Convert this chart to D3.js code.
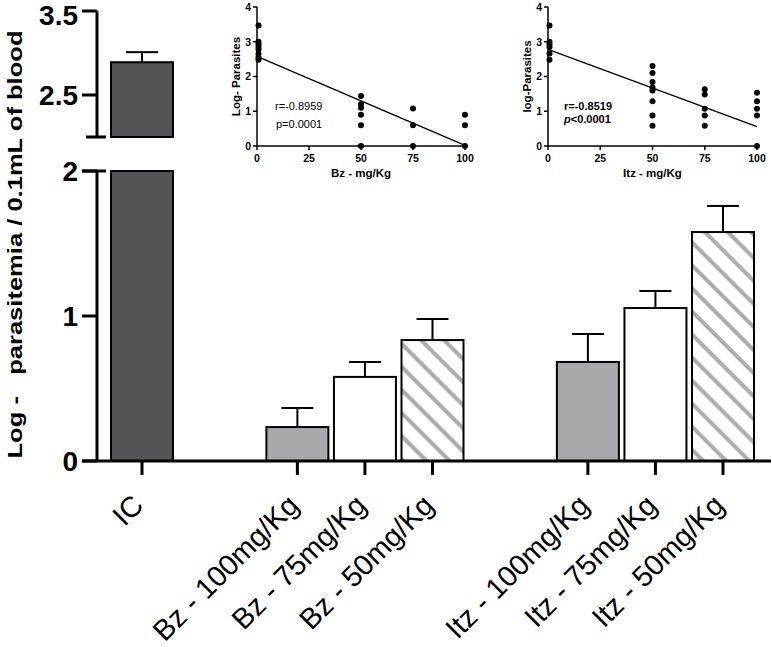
<!DOCTYPE html>
<html><head><meta charset="utf-8">
<script src="https://cdn.jsdelivr.net/npm/d3@7"></script>
<style>body{margin:0;background:#fff}svg{display:block;font-family:"Liberation Sans",Arial,sans-serif}</style>
</head><body><svg id="c" width="772" height="647"></svg>
<script>
// ---- data ----
const categories = ["IC","Bz - 100mg/Kg","Bz - 75mg/Kg","Bz - 50mg/Kg","Itz - 100mg/Kg","Itz - 75mg/Kg","Itz - 50mg/Kg"];
const groups = ["IC","Bz","Bz","Bz","Itz","Itz","Itz"];
const means = [2.89, 0.234, 0.58, 0.834, 0.683, 1.055, 1.579];
const sems = [0.12, 0.132, 0.103, 0.145, 0.193, 0.117, 0.18];
const fillKinds = ["dark","light","white","hatch","light","white","hatch"];
const lowerTicks = [0, 1, 2];
const upperTicks = [2.5, 3.5];
const yTitle = "Log -   parasitemia / 0.1mL of blood";

const doses = [0, 25, 50, 75, 100];
const insetYTicks = [0, 1, 2, 3, 4];
const bzDoses = [0, 50, 75, 100];
const bzPoints = [[3.47,3.0,2.93,2.85,2.78,2.65,2.55,2.48],[1.44,1.2,1.1,0.9,0.6,0],[1.08,0.6,0],[0.9,0.6,0]];
const bzFit = [2.58, 0.02];
const bzStats = ["r=-0.8959", "p=0.0001"];
const itzDoses = [0, 50, 75, 100];
const itzPoints = [[3.47,3.0,2.93,2.85,2.66,2.48],[2.3,2.1,1.84,1.68,1.6,1.29,0.88,0.58],[1.63,1.48,1.07,0.88,0.58],[1.53,1.29,1.07,0.88,0]];
const itzFit = [2.78, 0.56];

// ---- drawing ----
const svg = d3.select("#c");
const defs = svg.append("defs");
const pat = defs.append("pattern").attr("id","hatch").attr("patternUnits","userSpaceOnUse")
  .attr("width",16.3).attr("height",16.3).attr("patternTransform","rotate(45)");
pat.append("rect").attr("width",16.3).attr("height",16.3).attr("fill","#fff");
pat.append("line").attr("x1",0).attr("x2",16.3).attr("y1",8).attr("y2",8).attr("stroke","#aaaaaa").attr("stroke-width",4);

const fillScale = d3.scaleOrdinal().domain(["dark","light","white","hatch"]).range(["#545457","#a9a9ad","#ffffff","url(#hatch)"]);

// slot index with gaps between groups
let gi = 0; const slot = categories.map((c,i)=>{ if(i>0 && groups[i]!==groups[i-1]) gi += 1.3; return i+gi; });
const x = d3.scaleLinear().domain([0, d3.max(slot)]).range([142, 723]);
const yL = d3.scaleLinear().domain([0, 2]).range([461, 171]);
const yU = d3.scaleLinear().domain([2, 3.5]).range([137, 11]);
const bw = 62;

const axX = 97;
// y axis lines
svg.append("line").attr("x1",axX).attr("x2",axX).attr("y1",yU(3.5)).attr("y2",yU(2)).attr("stroke","#000").attr("stroke-width",3);
svg.append("line").attr("x1",axX).attr("x2",axX).attr("y1",yL(2)).attr("y2",yL(0)).attr("stroke","#000").attr("stroke-width",3);
// break caps
svg.append("line").attr("x1",86).attr("x2",106).attr("y1",yU(2)).attr("y2",yU(2)).attr("stroke","#000").attr("stroke-width",3);
svg.append("line").attr("x1",82).attr("x2",106).attr("y1",yL(2)).attr("y2",yL(2)).attr("stroke","#000").attr("stroke-width",3);
// ticks
upperTicks.forEach(t=>{
  svg.append("line").attr("x1",82).attr("x2",axX).attr("y1",yU(t)).attr("y2",yU(t)).attr("stroke","#000").attr("stroke-width",3);
  svg.append("text").attr("x",78).attr("y",Math.max(yU(t), 15)).attr("dy","0.36em").attr("text-anchor","end")
    .attr("font-size",28).attr("font-weight","bold").text(t.toFixed(1));
});
lowerTicks.forEach(t=>{
  svg.append("line").attr("x1",82).attr("x2",axX).attr("y1",yL(t)).attr("y2",yL(t)).attr("stroke","#000").attr("stroke-width",3);
  svg.append("text").attr("x",78).attr("y",yL(t)).attr("dy","0.36em").attr("text-anchor","end")
    .attr("font-size",28).attr("font-weight","bold").text(t);
});
svg.append("text").attr("transform",`translate(22,${(yL(0)+28)/2}) rotate(-90)`).attr("text-anchor","middle")
  .attr("font-size",21).attr("font-weight","bold").attr("textLength",428).attr("lengthAdjust","spacingAndGlyphs")
  .attr("xml:space","preserve").style("white-space","pre").text(yTitle);

// bars
categories.forEach((c,i)=>{
  const cx = x(slot[i]), m = means[i], top = m + sems[i];
  const f = fillScale(fillKinds[i]);
  if (m <= 2) {
    svg.append("rect").attr("x",cx-bw/2).attr("y",yL(m)).attr("width",bw).attr("height",yL(0)-yL(m))
      .attr("fill",f).attr("stroke","#000").attr("stroke-width",2);
    svg.append("line").attr("x1",cx).attr("x2",cx).attr("y1",yL(m)).attr("y2",yL(top)).attr("stroke","#000").attr("stroke-width",2);
    svg.append("line").attr("x1",cx-16).attr("x2",cx+16).attr("y1",yL(top)).attr("y2",yL(top)).attr("stroke","#000").attr("stroke-width",2);
  } else {
    svg.append("rect").attr("x",cx-bw/2).attr("y",yL(2)).attr("width",bw).attr("height",yL(0)-yL(2))
      .attr("fill",f).attr("stroke","#000").attr("stroke-width",2);
    svg.append("rect").attr("x",cx-bw/2).attr("y",yU(m)).attr("width",bw).attr("height",yU(2)-yU(m))
      .attr("fill",f).attr("stroke","#000").attr("stroke-width",2);
    svg.append("line").attr("x1",cx).attr("x2",cx).attr("y1",yU(m)).attr("y2",yU(top)).attr("stroke","#000").attr("stroke-width",2);
    svg.append("line").attr("x1",cx-16).attr("x2",cx+16).attr("y1",yU(top)).attr("y2",yU(top)).attr("stroke","#000").attr("stroke-width",2);
  }
});
// x axis
svg.append("line").attr("x1",82).attr("x2",771).attr("y1",yL(0)).attr("y2",yL(0)).attr("stroke","#000").attr("stroke-width",3);
categories.forEach((c,i)=>{
  const cx = x(slot[i]);
  svg.append("line").attr("x1",cx).attr("x2",cx).attr("y1",yL(0)).attr("y2",yL(0)+14).attr("stroke","#000").attr("stroke-width",3);
  svg.append("text").attr("transform",`translate(${cx+3},${yL(0)+46}) rotate(-45)`).attr("text-anchor","end")
    .attr("font-size",29).text(c);
});

// insets
function inset(x0, x1, doseArr, pts, fit, xTitle, yTitleTxt, drawStats) {
  const sx = d3.scaleLinear().domain([0,100]).range([x0, x1]);
  const sy = d3.scaleLinear().domain([0,4]).range([146, 7]);
  const g = svg.append("g");
  g.append("line").attr("x1",x0).attr("x2",x0).attr("y1",sy(0)).attr("y2",sy(4)).attr("stroke","#000").attr("stroke-width",1.5);
  g.append("line").attr("x1",x0).attr("x2",x1).attr("y1",sy(0)).attr("y2",sy(0)).attr("stroke","#000").attr("stroke-width",1.5);
  insetYTicks.forEach(t=>{
    g.append("line").attr("x1",x0-4).attr("x2",x0).attr("y1",sy(t)).attr("y2",sy(t)).attr("stroke","#000").attr("stroke-width",1.5);
    g.append("text").attr("x",x0-6).attr("y",sy(t)).attr("dy","0.36em").attr("text-anchor","end").attr("font-size",10.5).attr("font-weight","bold").text(t);
  });
  doses.forEach(t=>{
    g.append("line").attr("x1",sx(t)).attr("x2",sx(t)).attr("y1",sy(0)).attr("y2",sy(0)+4).attr("stroke","#000").attr("stroke-width",1.5);
    g.append("text").attr("x",sx(t)).attr("y",sy(0)+16).attr("text-anchor","middle").attr("font-size",10.5).attr("font-weight","bold").text(t);
  });
  g.append("line").attr("x1",sx(0)).attr("x2",sx(100)).attr("y1",sy(fit[0])).attr("y2",sy(fit[1])).attr("stroke","#000").attr("stroke-width",1.3);
  doseArr.forEach((d,i)=>{
    pts[i].forEach(v=>{
      g.append("circle").attr("cx",sx(d)+(d===0?1.5:0)).attr("cy",sy(v)).attr("r",3).attr("fill","#000");
    });
  });
  g.append("text").attr("x",(x0+x1)/2).attr("y",177).attr("text-anchor","middle").attr("font-size",11.5).attr("font-weight","bold").text(xTitle);
  g.append("text").attr("transform",`translate(${x0-17},${sy(2)}) rotate(-90)`).attr("text-anchor","middle").attr("font-size",11.5).attr("font-weight","bold").text(yTitleTxt);
  drawStats(g, sx, sy);
}
inset(257, 465, bzDoses, bzPoints, bzFit, "Bz - mg/Kg", "Log- Parasites", (g)=>{
  g.append("text").attr("x",275).attr("y",110).attr("font-size",11).text(bzStats[0]);
  g.append("text").attr("x",276).attr("y",128).attr("font-size",11).text(bzStats[1]);
});
inset(548, 757, itzDoses, itzPoints, itzFit, "Itz - mg/Kg", "log-Parasites", (g)=>{
  g.append("text").attr("x",564).attr("y",110).attr("font-size",11).attr("font-weight","bold").text("r=-0.8519");
  const t = g.append("text").attr("x",564).attr("y",123).attr("font-size",11).attr("font-weight","bold");
  t.append("tspan").attr("font-style","italic").text("p");
  t.append("tspan").text("<0.0001");
});
</script></body></html>
